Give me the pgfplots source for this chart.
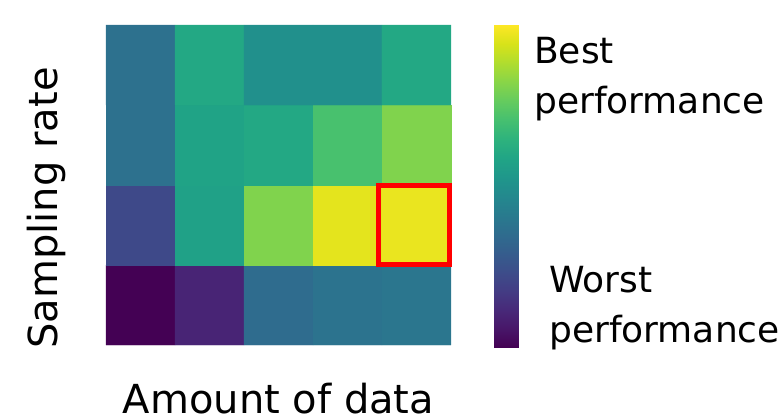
\documentclass[border=0pt]{standalone}
\usepackage{pgfplots}
\pgfplotsset{compat=1.18}
\usepackage{fontspec}
\setmainfont{DejaVu Sans}
\begin{document}
\begin{tikzpicture}
\useasboundingbox (0pt,0pt) rectangle (784pt,418pt);
\begin{axis}[
  at={(106pt,73pt)}, anchor=south west,
  width=345pt, height=320pt, scale only axis,
  xmin=0.5, xmax=5.5, ymin=0.5, ymax=4.5,
  axis line style={draw=none}, ticks=none,
  colormap/viridis, point meta min=0, point meta max=1,
  clip=false,
]
\addplot[matrix plot*, mesh/cols=5, point meta=explicit] table[meta=c] {
x y c
1 1 0.00
2 1 0.10
3 1 0.35
4 1 0.38
5 1 0.39
1 2 0.22
2 2 0.57
3 2 0.81
4 2 0.96
5 2 0.97
1 3 0.37
2 3 0.58
3 3 0.60
4 3 0.71
5 3 0.81
1 4 0.37
2 4 0.60
3 4 0.50
4 4 0.50
5 4 0.60
};
\draw[red, line width=5pt] (axis cs:4.449,1.506) rectangle (axis cs:5.478,2.494);
\end{axis}
\begin{axis}[
  at={(494pt,71pt)}, anchor=south west,
  width=24pt, height=322pt, scale only axis,
  xmin=0, xmax=1, ymin=0, ymax=1, hide axis,
  colormap/viridis, point meta min=0, point meta max=1,
  view={0}{90},
]
\addplot[surf, shader=interp, point meta=y] coordinates {
(0,0) (1,0)

(0,1) (1,1)
};
\end{axis}
\node[anchor=base, inner sep=0pt, font=\fontsize{40}{48}\selectfont] at (278.5pt,5pt) {Amount of data};
\node[anchor=base, rotate=90, inner sep=0pt, font=\fontsize{40}{48}\selectfont] at (57pt,210pt) {Sampling rate};
\node[anchor=base west, inner sep=0pt, font=\fontsize{36}{43}\selectfont] at (534pt,354pt) {Best};
\node[anchor=base west, inner sep=0pt, font=\fontsize{36}{43}\selectfont] at (534pt,304pt) {performance};
\node[anchor=base west, inner sep=0pt, font=\fontsize{36}{43}\selectfont] at (549pt,126pt) {Worst};
\node[anchor=base west, inner sep=0pt, font=\fontsize{36}{43}\selectfont] at (549pt,76pt) {performance};
\end{tikzpicture}
\end{document}
